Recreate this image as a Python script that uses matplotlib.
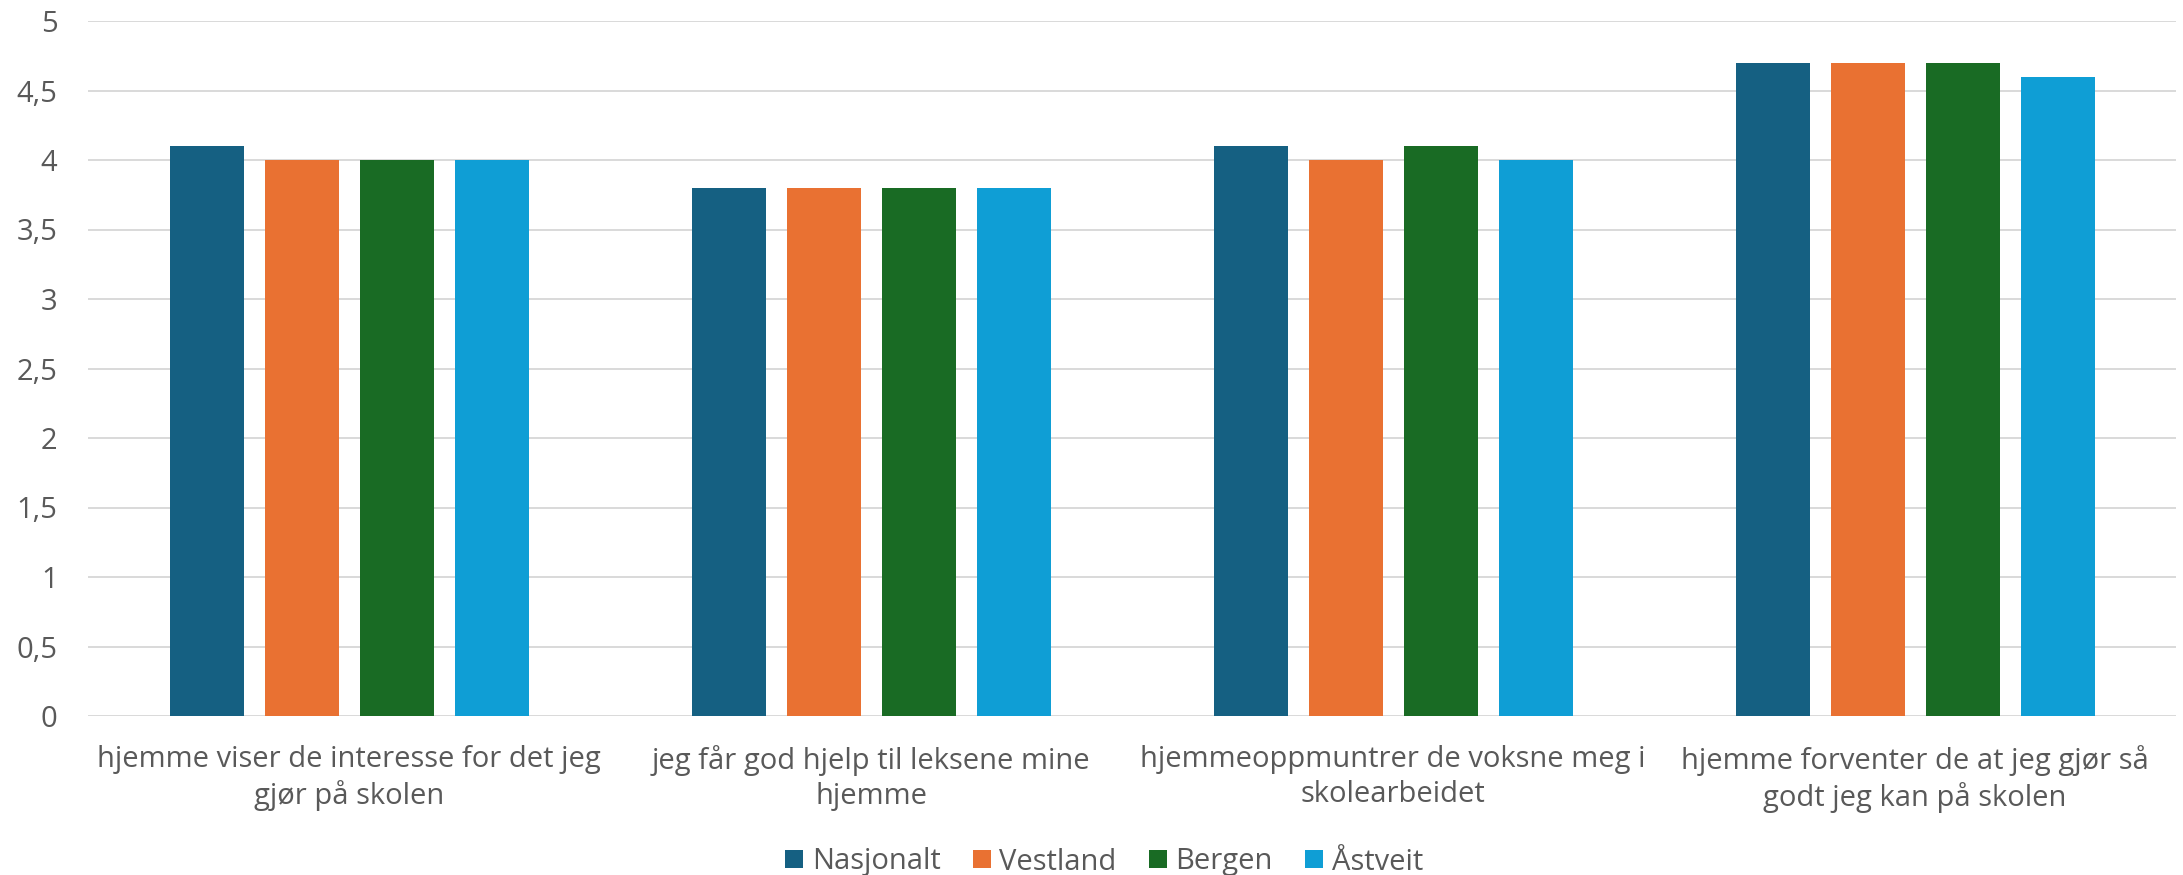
import matplotlib
matplotlib.use("Agg")
import matplotlib.pyplot as plt
from matplotlib.patches import Patch
import numpy as np

categories = [
    "hjemme viser de interesse for det jeg\ngjør på skolen",
    "jeg får god hjelp til leksene mine\nhjemme",
    "hjemmeoppmuntrer de voksne meg i\nskolearbeidet",
    "hjemme forventer de at jeg gjør så\ngodt jeg kan på skolen",
]
series_names = ["Nasjonalt", "Vestland", "Bergen", "Åstveit"]
nasjonalt = [4.1, 3.8, 4.1, 4.7]
vestland = [4.0, 3.8, 4.0, 4.7]
bergen = [4.0, 3.8, 4.1, 4.7]
astveit = [4.0, 3.8, 4.0, 4.6]
colors = ["#156082", "#E97132", "#196B24", "#0F9ED5"]
yticks = [0, 0.5, 1, 1.5, 2, 2.5, 3, 3.5, 4, 4.5, 5]
ytick_labels = ["0", "0,5", "1", "1,5", "2", "2,5", "3", "3,5", "4", "4,5", "5"]

plt.rcParams['font.family'] = ['Open Sans', 'DejaVu Sans']
text_color = "#595959"
fs = 21

W, H = 2183, 875
fig = plt.figure(figsize=(W / 100, H / 100), dpi=100)
left, right, bottom, top = 88, 2176, 716, 21
ax = fig.add_axes([left / W, 1 - bottom / H, (right - left) / W, (bottom - top) / H])

x = np.arange(len(categories))
bar_w = 74 / 522
step = 95 / 522
all_series = [nasjonalt, vestland, bergen, astveit]
for i, (vals, c) in enumerate(zip(all_series, colors)):
    ax.bar(x + (i - 1.5) * step, vals, width=bar_w, color=c, zorder=3)

ax.set_xlim(-0.5, len(categories) - 0.5)
ax.set_ylim(0, 5)
ax.set_yticks(yticks)
ax.set_yticklabels(ytick_labels)
ax.set_xticks(x)
ax.set_xticklabels(categories, linespacing=1.25)
ax.tick_params(axis='y', length=0, pad=22, labelsize=fs, labelcolor=text_color)
ax.tick_params(axis='x', length=0, pad=21, labelsize=fs, labelcolor=text_color)
ax.grid(axis='y', color="#D9D9D9", linewidth=1.4, zorder=0)
ax.set_axisbelow(True)
for s in ax.spines.values():
    s.set_visible(False)

handles = [Patch(facecolor=c, edgecolor='none') for c in colors]
fig.legend(handles, series_names, loc='center', bbox_to_anchor=(1104 / W, 1 - 862 / H),
           ncol=4, frameon=False, fontsize=fs, labelcolor=text_color,
           handlelength=0.62, handleheight=0.6, handletextpad=0.3, columnspacing=1.1)

fig.savefig("out.png", dpi=100)
